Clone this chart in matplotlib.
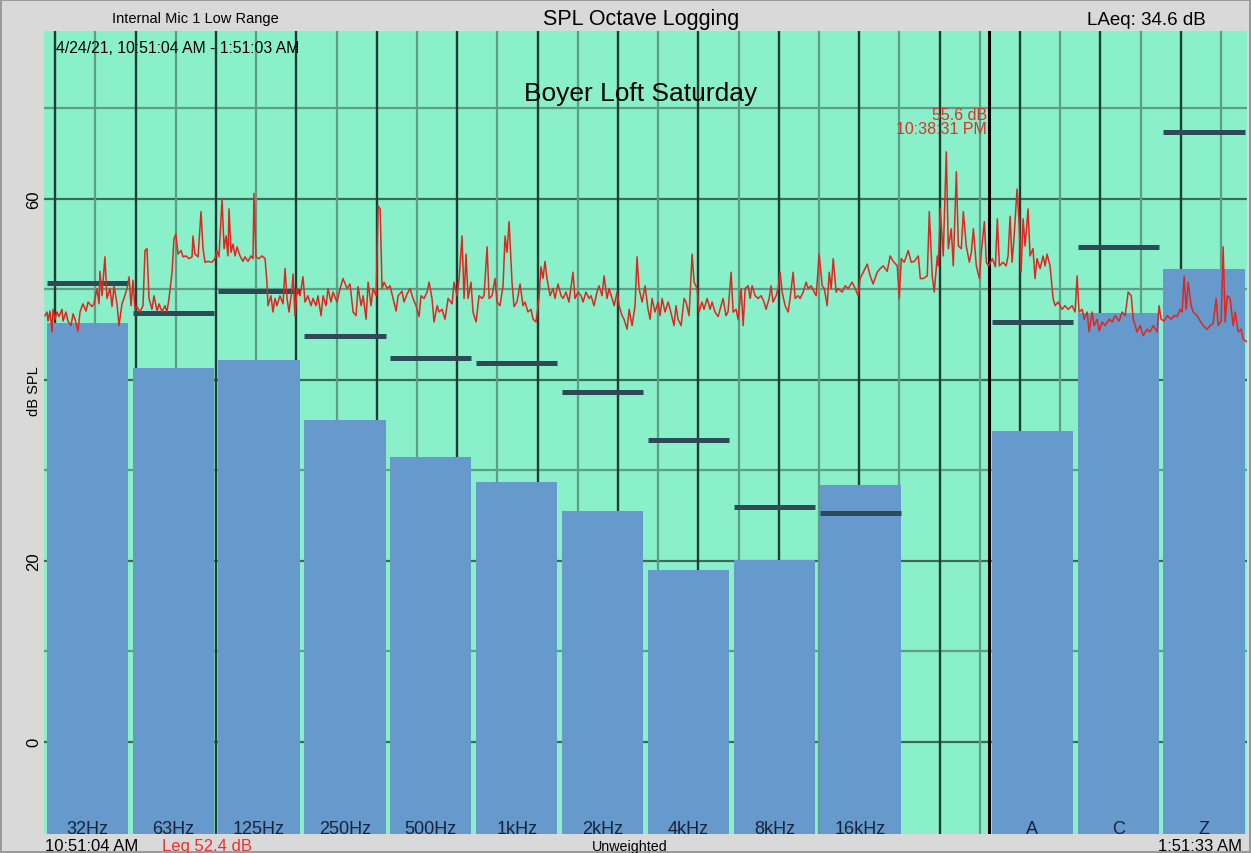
import numpy as np
import matplotlib
matplotlib.use("Agg")
import matplotlib.pyplot as plt

plt.rcParams['font.family'] = ['Liberation Sans', 'DejaVu Sans']

# ---------------- data ----------------
bands = ["32Hz", "63Hz", "125Hz", "250Hz", "500Hz", "1kHz", "2kHz", "4kHz",
         "8kHz", "16kHz", "", "A", "C", "Z"]
leq_db = [46.3, 41.3, 42.2, 35.6, 31.5, 28.7, 25.5, 19.0, 20.1, 28.4, None, 34.4, 47.4, 52.3]
mark_db = [50.7, 47.4, 49.8, 44.9, 42.4, 41.9, 38.7, 33.4, 25.9, 25.3, None, 46.4, 54.7, 67.4]

# SPL log: minutes after 10:51:04 AM, dB
trace_min = [
    1.3, 2.8, 3.5, 5.0, 6.5, 7.2, 8.7, 10.2, 11.7, 14.0, 14.7, 16.9, 18.4, 20.7, 22.2, 23.7,
    25.9, 27.4, 29.6, 31.9, 33.4, 36.3, 37.8, 40.1, 41.6, 42.3, 43.8, 46.0, 47.5, 49.8, 51.3,
    52.8, 55.0, 56.5, 58.7, 60.2, 62.5, 64.0, 65.5, 66.9, 68.4, 69.9, 72.2, 74.4, 75.9, 77.4,
    78.9, 81.1, 82.6, 84.9, 86.4, 88.6, 90.8, 92.3, 93.8, 96.1, 97.5, 99.0, 100.5, 102.8,
    104.3, 106.5, 108.7, 111.0, 111.7, 113.2, 115.5, 117.7, 119.2, 120.7, 122.9, 125.9, 128.1,
    129.6, 131.1, 133.4, 134.9, 136.4, 137.8, 138.6, 140.1, 141.6, 143.1, 144.6, 146.8, 149.0,
    150.5, 152.8, 155.0, 156.5, 157.2, 158.7, 161.0, 163.2, 165.5, 166.9, 167.7, 169.9, 171.4,
    172.9, 174.4, 176.6, 178.9, 180.4, 181.9, 183.4, 185.6, 186.4, 187.8, 189.3, 191.6, 193.8,
    195.3, 197.5, 199.8, 201.3, 203.5, 205.0, 207.3, 208.8, 211.0, 212.5, 214.7, 216.2, 219.2,
    221.5, 223.7, 226.7, 228.9, 231.2, 233.4, 234.9, 237.2, 238.7, 240.9, 242.4, 244.6, 246.1,
    248.4, 249.9, 251.4, 252.8, 254.3, 256.6, 258.8, 261.0, 263.3, 264.8, 267.7, 269.2, 271.5,
    273.7, 275.9, 278.2, 280.4, 281.9, 284.2, 286.4, 287.9, 290.1, 291.6, 293.9, 295.4, 297.6,
    299.8, 302.1, 305.1, 306.5, 308.8, 310.3, 312.5, 314.0, 315.5, 317.0, 319.2, 320.7, 323.0,
    325.2, 327.4, 328.9, 331.2, 332.7, 334.9, 337.1, 338.6, 340.8, 343.1, 344.6, 346.1, 347.6,
    349.8, 351.3, 353.5, 355.8, 358.0, 359.5, 361.7, 364.0, 365.5, 367.7, 369.9, 371.4, 372.9,
    374.4, 375.9, 378.2, 380.4, 381.9, 384.1, 386.4, 387.9, 390.1, 392.3, 395.3, 396.8, 399.1,
    401.3, 402.8, 405.0, 407.3, 408.8, 411.0, 413.2, 414.7, 417.0, 418.5, 420.7, 422.2, 424.5,
    426.0, 428.2, 429.7, 431.9, 433.4, 435.7, 437.2, 439.4, 441.6, 443.1, 444.6, 446.9, 449.1,
    451.3, 452.8, 454.3, 456.5, 458.8, 460.3, 461.8, 464.0, 466.3, 467.8, 470.7, 472.2, 473.7,
    476.0, 478.2, 479.7, 481.9, 484.2, 485.7, 487.9, 489.4, 491.6, 493.1, 495.4, 497.6, 499.1,
    501.3, 503.6, 505.1, 507.3, 509.5, 511.0, 513.3, 514.8, 517.0, 518.5, 520.8, 522.3, 523.8,
    526.0, 527.5, 529.0, 531.2, 533.5, 535.7, 537.9, 539.4, 541.7, 543.1, 544.6, 546.9, 548.4,
    549.9, 551.4, 553.6, 555.9, 557.3, 559.6, 561.1, 563.3, 564.8, 567.1, 569.3, 570.8, 573.0,
    575.3, 576.8, 579.0, 581.3, 582.8, 585.0, 586.5, 588.0, 589.5, 591.7, 593.2, 596.2, 598.4,
    600.7, 603.6, 605.9, 608.1, 609.6, 611.9, 614.9, 617.1, 619.3, 622.3, 624.6, 626.8, 629.8,
    632.0, 634.3, 637.3, 638.8, 640.3, 642.5, 645.5, 647.7, 650.0, 653.0, 654.5, 656.7, 659.7,
    661.2, 663.4, 664.9, 667.2, 667.9, 669.4, 671.6, 673.9, 675.4, 677.6, 679.1, 681.4, 682.9,
    685.1, 686.6, 688.8, 691.1, 692.6, 694.1, 696.3, 698.6, 700.0, 702.3, 703.8, 705.3, 708.3,
    710.5, 712.0, 713.5, 716.2, 718.5, 720.0, 721.5, 723.0, 724.4, 726.7, 728.2, 729.7, 731.2,
    732.7, 734.9, 736.4, 738.6, 740.1, 741.6, 743.9, 746.1, 747.6, 749.1, 751.3, 753.6, 755.1,
    757.3, 760.3, 762.5, 764.8, 767.8, 770.0, 771.5, 773.0, 775.3, 776.8, 779.0, 780.5, 782.7,
    784.2, 786.5, 788.0, 790.2, 792.5, 795.4, 797.7, 799.9, 802.9, 805.1, 807.4, 809.6, 811.9,
    813.4, 816.3, 818.6, 820.8, 823.8, 826.0, 828.3, 831.2, 832.7, 834.2, 836.5, 838.7, 841.7,
    843.9, 846.2, 848.4, 849.9, 851.4, 852.9, 854.4, 856.6, 858.1, 861.1, 863.3, 865.6, 868.5,
    870.8, 873.0, 875.3, 876.8, 879.0, 880.5, 882.0, 883.5, 885.7, 888.0, 889.5, 891.7, 893.9,
    895.4, 898.4]
trace_db = [
    47.1, 47.5, 46.5, 47.6, 45.3, 47.8, 46.7, 47.5, 47.0, 47.8, 46.5, 47.5, 46.5, 46.0, 47.3, 46.7,
    45.4, 47.5, 48.4, 47.6, 48.6, 48.1, 48.4, 50.1, 48.4, 52.0, 49.3, 53.6, 49.0, 50.1, 48.1,
    50.4, 48.4, 46.0, 48.4, 49.0, 50.1, 51.4, 48.2, 51.0, 47.8, 48.1, 47.5, 48.2, 54.3, 54.5,
    49.0, 47.8, 49.3, 47.6, 48.4, 47.5, 48.2, 47.5, 49.0, 51.9, 55.6, 56.1, 53.9, 54.3,
    53.6, 53.7, 53.4, 53.6, 55.9, 53.9, 53.6, 58.6, 54.5, 53.0, 53.1, 53.0, 53.4,
    54.3, 53.6, 60.0, 54.5, 55.9, 53.7, 58.9, 54.1, 55.0, 53.7, 54.7, 53.7, 53.1,
    53.6, 53.1, 53.7, 53.4, 60.6, 53.6, 53.4, 53.7, 53.4, 50.8, 48.2, 49.3, 47.5,
    49.0, 48.2, 49.3, 48.4, 52.3, 49.0, 47.5, 50.1, 51.7, 47.1, 50.1, 49.3, 51.4,
    48.6, 49.3, 48.2, 49.0, 48.2, 49.3, 47.1, 49.3, 48.2, 50.1, 48.6, 49.7, 48.6,
    50.1, 51.2, 50.1, 50.6, 47.5, 47.1, 50.3, 48.2, 49.3, 46.7, 50.8, 48.2, 50.1,
    49.3, 59.2, 58.9, 50.1, 50.8, 50.1, 50.4, 49.0, 47.6, 49.3, 49.8, 48.6, 49.5,
    50.1, 49.0, 48.2, 47.0, 49.3, 49.0, 49.7, 50.8, 49.0, 46.4, 48.2, 47.5, 47.8,
    46.7, 49.0, 48.4, 50.8, 49.3, 51.2, 55.9, 49.0, 53.9, 49.0, 50.8, 47.5, 46.4,
    49.3, 49.0, 49.3, 54.7, 49.0, 49.3, 51.2, 48.6, 48.2, 50.4, 55.9, 54.1, 57.5,
    50.8, 48.1, 48.6, 50.6, 48.2, 48.6, 47.5, 47.8, 46.7, 46.4, 49.0, 52.5, 51.2,
    53.1, 51.2, 49.3, 50.1, 49.0, 50.6, 49.3, 49.0, 49.7, 48.6, 51.9, 49.0, 49.7,
    49.3, 48.6, 49.7, 49.0, 49.3, 48.2, 49.7, 50.4, 49.3, 51.5, 49.0, 50.1, 49.0,
    48.2, 49.7, 48.2, 47.1, 46.7, 45.6, 47.8, 46.0, 48.2, 53.6, 50.1, 48.6, 50.4,
    47.8, 46.7, 49.0, 47.5, 48.6, 47.1, 49.0, 47.5, 48.6, 47.8, 46.0, 48.2, 46.7,
    46.0, 49.0, 48.6, 47.1, 53.9, 50.8, 50.1, 47.5, 48.6, 47.8, 49.0, 47.8, 48.6,
    47.5, 47.0, 47.8, 49.0, 47.1, 47.5, 51.9, 47.5, 47.8, 46.7, 50.1, 46.0, 50.1,
    50.4, 49.0, 50.4, 49.3, 49.0, 49.3, 48.6, 47.8, 49.0, 50.4, 48.6, 49.3, 50.1,
    51.9, 49.7, 48.2, 47.5, 49.0, 51.9, 49.0, 49.3, 49.0, 49.7, 50.8, 50.1, 50.4,
    49.7, 49.3, 53.9, 50.4, 50.1, 48.2, 51.9, 50.1, 53.4, 49.7, 50.1, 49.7, 50.4,
    50.1, 50.8, 50.1, 49.3, 51.2, 51.9, 52.8, 51.5, 50.6, 51.9, 52.3, 52.6, 52.0,
    53.7, 53.1, 52.6, 49.0, 53.4, 53.0, 54.3, 53.0, 53.1, 53.7, 51.2, 51.2, 51.5,
    58.6, 51.5, 49.7, 53.7, 52.6, 58.9, 53.7, 65.2, 54.5, 56.7, 52.6, 63.0, 54.8,
    54.5, 58.6, 54.8, 53.0, 54.1, 56.7, 52.6, 51.2, 54.1, 57.5, 53.0, 52.6, 53.4,
    52.5, 57.8, 52.6, 53.0, 52.6, 53.7, 58.1, 53.0, 55.6, 61.1, 57.5, 51.9, 57.8,
    54.8, 58.9, 53.7, 54.5, 51.2, 53.4, 52.3, 53.7, 52.6, 53.9, 52.6, 49.0, 48.2,
    48.6, 47.8, 48.2, 47.8, 48.2, 47.5, 51.5, 47.5, 47.8, 46.7, 47.5, 45.3, 47.5,
    46.0, 46.7, 45.4, 46.4, 46.0, 46.7, 46.4, 47.1, 46.5, 47.5, 47.1, 49.7, 49.3,
    46.7, 45.3, 46.0, 44.9, 45.6, 45.3, 46.0, 45.3, 48.2, 46.7, 46.5, 47.1, 46.7,
    47.1, 47.0, 47.8, 47.5, 51.5, 47.8, 50.8, 48.2, 47.5, 47.1, 46.5, 46.0, 45.6,
    46.0, 46.2, 49.0, 46.0, 46.5, 54.7, 46.4, 49.3, 49.0, 46.0, 47.5, 45.3, 45.6,
    44.5, 44.2]

y_ticks = [0, 20, 60]
start_clock = (10, 51, 4)          # 10:51:04 AM
x_range_min = (0.75, 898.3)        # visible time window, minutes after start
y_range = (-10.2, 78.53)

# ---------------- figure ----------------
W, H = 1251, 854
fig = plt.figure(figsize=(W / 100, H / 100), dpi=100)
fig.patch.set_facecolor('#D9D9D9')
fig.patch.set_edgecolor('#9A9A9A')
fig.patch.set_linewidth(1.5)

L, R, T, B = 44.3, 1247, 32.3, 835
ax = fig.add_axes([L / W, 1 - B / H, (R - L) / W, (B - T) / H])
ax.set_facecolor('#89F0C9')
ax.set_xlim(*x_range_min)
ax.set_ylim(*y_range)
for s in ax.spines.values():
    s.set_visible(False)
ax.set_xticks([])

# horizontal grid
for v in range(0, 80, 10):
    major = (v % 20 == 0)
    ax.axhline(v, color='#3A6B5B' if major else '#5E9E86', lw=1.6, zorder=1)

# vertical time grid (hours dark, half hours light)
start_sec = start_clock[0] * 3600 + start_clock[1] * 60 + start_clock[2]
first_hour = (3600 - start_sec % 3600) / 60.0
t0, t1 = x_range_min
for k in range(16):
    m = first_hour + 60 * k
    if t0 < m < t1:
        ax.axvline(m, color='#1E3E35', lw=1.7, zorder=1)
    h = m + 30
    if t0 < h < t1:
        ax.axvline(h, color='#5E9E86', lw=1.6, zorder=1)

# band slots
n = len(bands)
slot = (t1 - t0) / n
centers = t0 + (np.arange(n) + 0.5) * slot
bw = slot * 0.945
ax.axvline(t0 + 11 * slot, color='black', lw=2.2, zorder=1.5)

idx = [i for i in range(n) if leq_db[i] is not None]
ymin = y_range[0]
ax.bar(centers[idx], [leq_db[i] - ymin for i in idx], bottom=ymin, width=bw,
       color='#6699CC', zorder=2)
ax.hlines([mark_db[i] for i in idx], centers[idx] - bw / 2, centers[idx] + bw / 2,
          color='#2C4A58', lw=3.6, zorder=3)

ax.plot(trace_min, trace_db, color='#E0271F', lw=1.1, zorder=4)

# band labels
lab_tr = ax.get_xaxis_transform()
for i in range(n):
    if bands[i]:
        ax.text(centers[i], 0.0015, bands[i], transform=lab_tr,
                ha='center', va='baseline', fontsize=13, color='#17233A', zorder=5)

# y ticks
ax.set_yticks(y_ticks)
ax.set_yticklabels([str(v) for v in y_ticks], rotation=90, va='center', ha='center',
                   fontsize=12)
ax.tick_params(axis='y', length=0, pad=7.5)

def ftext(x, y, s, **kw):
    fig.text(x / W, 1 - y / H, s, **kw)

ftext(34, 391, "dB SPL", rotation=90, ha='center', va='center', fontsize=10.5)

ftext(195, 23, "Internal Mic 1 Low Range", ha='center', va='baseline', fontsize=10.5)
ftext(641, 25, "SPL Octave Logging", ha='center', va='baseline', fontsize=15.5)
ftext(1206, 25, "LAeq: 34.6 dB", ha='right', va='baseline', fontsize=13.5)
ftext(56, 53, "4/24/21, 10:51:04 AM - 1:51:03 AM", ha='left', va='baseline', fontsize=11.3)
ftext(641, 101, "Boyer Loft Saturday", ha='center', va='baseline', fontsize=19)
ftext(987, 120, "55.6 dB", ha='right', va='baseline', fontsize=11.5, color='#E0302A')
ftext(987, 134, "10:38:31 PM", ha='right', va='baseline', fontsize=11.5, color='#E0302A')

ftext(45, 851, "10:51:04 AM", ha='left', va='baseline', fontsize=12)
ftext(162, 851, "Leq 52.4 dB", ha='left', va='baseline', fontsize=12, color='#F0302A')
ftext(630, 851, "Unweighted", ha='center', va='baseline', fontsize=10.3)
ftext(1242, 851, "1:51:33 AM", ha='right', va='baseline', fontsize=12)

fig.savefig("out.png", dpi=100, facecolor=fig.get_facecolor(), edgecolor=fig.get_edgecolor())
